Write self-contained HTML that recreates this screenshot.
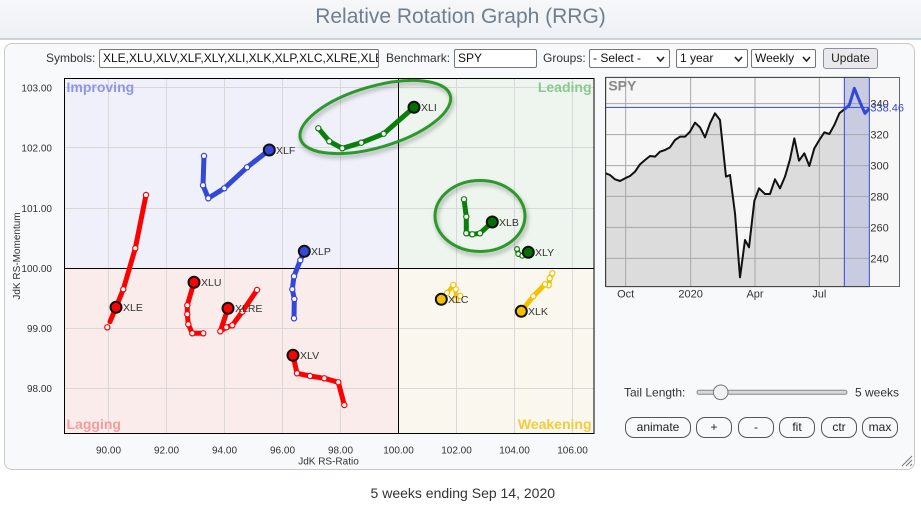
<!DOCTYPE html>
<html><head><meta charset="utf-8">
<style>
html,body{margin:0;padding:0;width:921px;height:506px;overflow:hidden;background:#fff;font-family:"Liberation Sans",Arial,sans-serif;}
.a{position:absolute;}
.title{left:0;top:0;width:921px;height:38px;background:linear-gradient(#f6f7f9,#eef1f4);border-bottom:2px solid #c9d3dd;}
.title span{position:absolute;left:0;width:921px;text-align:center;top:5px;font-size:21px;color:#6d7f91;}
.panel{left:4px;top:43px;width:911px;height:427px;border:1px solid #c8c8c8;border-radius:8px;background:#f8f9fa;box-sizing:border-box;}
.lbl{position:absolute;font-size:12px;color:#333;top:51px;line-height:15px;white-space:nowrap;}
.box{position:absolute;top:49px;height:19px;background:#fff;border:1px solid #767676;border-radius:2px;box-sizing:border-box;font-size:12px;line-height:17px;padding-left:3px;overflow:hidden;white-space:nowrap;color:#111;}
.sel svg{position:absolute;right:4px;top:6px;}
.btn{position:absolute;top:417px;height:21px;border:1px solid #555;border-radius:9px;box-sizing:border-box;font-size:12px;line-height:19px;text-align:center;color:#222;background:#f8f9fa;}
</style></head><body>
<div class="a title"><span>Relative Rotation Graph (RRG)</span></div>
<div class="a panel"></div>

<div class="lbl" style="left:46px;">Symbols:</div>
<div class="box" style="left:99px;width:280px;">XLE,XLU,XLV,XLF,XLY,XLI,XLK,XLP,XLC,XLRE,XLB</div>
<div class="lbl" style="left:386px;">Benchmark:</div>
<div class="box" style="left:454px;width:83px;">SPY</div>
<div class="lbl" style="left:543px;">Groups:</div>
<div class="box sel" style="left:589px;width:81px;">- Select -<svg width="9" height="6"><polyline points="1,1 4.5,5 8,1" fill="none" stroke="#222" stroke-width="1.6"/></svg></div>
<div class="box sel" style="left:676px;width:72px;">1 year<svg width="9" height="6"><polyline points="1,1 4.5,5 8,1" fill="none" stroke="#222" stroke-width="1.6"/></svg></div>
<div class="box sel" style="left:751px;width:65px;">Weekly<svg width="9" height="6"><polyline points="1,1 4.5,5 8,1" fill="none" stroke="#222" stroke-width="1.6"/></svg></div>
<div class="a" style="left:823px;top:48px;width:55px;height:21px;background:#e9e9ed;border:1px solid #8f8f9d;border-radius:3px;box-sizing:border-box;font-size:12px;line-height:19px;text-align:center;color:#222;">Update</div>

<svg class="a" style="left:0;top:0" width="921" height="506" viewBox="0 0 921 506" font-family="Liberation Sans, Arial, sans-serif">
  <defs>
    <filter id="sh" x="-20%" y="-30%" width="140%" height="160%">
      <feDropShadow dx="1.5" dy="3" stdDeviation="2" flood-color="#000" flood-opacity="0.3"/>
    </filter>
  </defs>
  <!-- quadrants -->
  <rect x="64.5" y="78.5" width="334" height="190" fill="#eff0f9"/>
  <rect x="398.5" y="78.5" width="195.5" height="190" fill="#eef4ee"/>
  <rect x="64.5" y="268.5" width="334" height="165" fill="#fbecec"/>
  <rect x="398.5" y="268.5" width="195.5" height="165" fill="#faf8ee"/>
  <!-- grid -->
  <g stroke="#d8d8d8" stroke-width="1">
    <line x1="108.5" y1="78.5" x2="108.5" y2="433.5"/>
    <line x1="166.5" y1="78.5" x2="166.5" y2="433.5"/>
    <line x1="224.5" y1="78.5" x2="224.5" y2="433.5"/>
    <line x1="282.5" y1="78.5" x2="282.5" y2="433.5"/>
    <line x1="340.5" y1="78.5" x2="340.5" y2="433.5"/>
    <line x1="456.5" y1="78.5" x2="456.5" y2="433.5"/>
    <line x1="514.5" y1="78.5" x2="514.5" y2="433.5"/>
    <line x1="572.5" y1="78.5" x2="572.5" y2="433.5"/>
    <line x1="64.5" y1="87.5" x2="594" y2="87.5"/>
    <line x1="64.5" y1="147.5" x2="594" y2="147.5"/>
    <line x1="64.5" y1="208.5" x2="594" y2="208.5"/>
    <line x1="64.5" y1="328.5" x2="594" y2="328.5"/>
    <line x1="64.5" y1="388.5" x2="594" y2="388.5"/>
  </g>
  <line x1="398.5" y1="78.5" x2="398.5" y2="433.5" stroke="#000"/>
  <line x1="64.5" y1="268.5" x2="594" y2="268.5" stroke="#000"/>
  <rect x="64.5" y="78.5" width="529.5" height="355" fill="none" stroke="#000"/>

  <!-- quadrant labels -->
  <g font-size="14" font-weight="bold">
    <text x="66.5" y="92" fill="#8e96e8">Improving</text>
    <text x="591.5" y="92" fill="#8cc98c" text-anchor="end">Leading</text>
    <text x="66.5" y="429" fill="#f59c9c">Lagging</text>
    <text x="591.5" y="429" fill="#f2cc3c" text-anchor="end">Weakening</text>
  </g>

  <!-- axis labels -->
  <g font-size="10" fill="#333" text-anchor="end">
    <text x="52" y="91.3">103.00</text>
    <text x="52" y="151.3">102.00</text>
    <text x="52" y="212">101.00</text>
    <text x="52" y="272">100.00</text>
    <text x="52" y="332">99.00</text>
    <text x="52" y="392">98.00</text>
  </g>
  <g font-size="10" fill="#333" text-anchor="middle">
    <text x="108.5" y="453.5">90.00</text>
    <text x="166.5" y="453.5">92.00</text>
    <text x="224.5" y="453.5">94.00</text>
    <text x="282.5" y="453.5">96.00</text>
    <text x="340.5" y="453.5">98.00</text>
    <text x="398.5" y="453.5">100.00</text>
    <text x="456.5" y="453.5">102.00</text>
    <text x="514.5" y="453.5">104.00</text>
    <text x="572.5" y="453.5">106.00</text>
    <text x="328.5" y="464.5">JdK RS-Ratio</text>
    <text x="0" y="0" transform="translate(20,256) rotate(-90)">JdK RS-Momentum</text>
  </g>

  <!-- ellipses -->
  <g fill="none" stroke="#2b9a2b" stroke-width="3" filter="url(#sh)">
    <ellipse cx="375.3" cy="117" rx="78" ry="30.5" transform="rotate(-16.3 375.3 117)"/>
    <ellipse cx="480" cy="216" rx="45" ry="35.5"/>
  </g>

  <!-- tails -->
  <g fill="none" stroke-width="5" stroke-linejoin="round" stroke-linecap="round">
    <polyline stroke="#ff0000" points="146,195 135.3,248.3 123.3,289.3 116,307.3 110,321.7"/>
    <polyline stroke="#ff0000" points="203.3,333.3 192.3,333.3 188.3,324.3 187.3,314.3 187.3,305.3 194,282.3"/>
    <polyline stroke="#ff0000" points="257,290 242.3,311.7 232.3,325.3 226.3,327.3 220.3,331.3 228,308.3"/>
    <polyline stroke="#ff0000" points="344.3,405 338.3,382.3 324.3,378.3 310,376 297,373.3 293,355.3"/>
    <polyline stroke="#3347d8" points="204,156 203,185.3 208.3,198.3 224.3,188.3 247,167.3 269.3,150"/>
    <polyline stroke="#3347d8" points="294,318.3 294.3,299 292.3,289.3 294,276.3 300.3,260.3 304.3,251.3"/>
    <polyline stroke="#0a800a" points="318.3,128.3 329.3,141.3 342.3,148.3 361.3,142.7 383.7,133.7 414,107.3"/>
    <polyline stroke="#0a800a" points="464,199.3 466.3,216.7 466.3,233.3 472.3,234.3 480,233.3 492.3,222"/>
    <polyline stroke="#0a800a" points="517,249 518.3,254 522.3,255.7 528.3,252.3"/>
    <polyline stroke="#f5c000" stroke-width="4" points="460.3,296 455.7,300 455.7,289.3 453.3,285 447,293 441.3,299.3"/>
    <polyline stroke="#f5c000" points="552.3,273.3 549.7,278.3 548.7,285.3 545,284.3 533.3,296.3 521.3,311.3"/>
  </g>

  <!-- markers -->
  <g fill="#fff" stroke-width="1.2">
    <g stroke="#ff0000">
      <circle cx="146" cy="195" r="2.6"/><circle cx="135.3" cy="248.3" r="2.6"/><circle cx="123.3" cy="289.3" r="2.6"/><circle cx="107.3" cy="327.3" r="2.6"/>
      <circle cx="203.3" cy="333.3" r="2.6"/><circle cx="192.3" cy="333.3" r="2.6"/><circle cx="188.3" cy="324.3" r="2.6"/><circle cx="187.3" cy="314.3" r="2.6"/><circle cx="187.3" cy="305.3" r="2.6"/>
      <circle cx="257" cy="290" r="2.6"/><circle cx="242.3" cy="311.7" r="2.6"/><circle cx="232.3" cy="325.3" r="2.6"/><circle cx="226.3" cy="327.3" r="2.6"/><circle cx="220.3" cy="331.3" r="2.6"/>
      <circle cx="344.3" cy="405" r="2.6"/><circle cx="338.3" cy="382.3" r="2.6"/><circle cx="324.3" cy="378.3" r="2.6"/><circle cx="310" cy="376" r="2.6"/><circle cx="297" cy="373.3" r="2.6"/>
    </g>
    <g stroke="#3347d8">
      <circle cx="204" cy="156" r="2.6"/><circle cx="203" cy="185.3" r="2.6"/><circle cx="208.3" cy="198.3" r="2.6"/><circle cx="224.3" cy="188.3" r="2.6"/><circle cx="247" cy="167.3" r="2.6"/>
      <circle cx="294" cy="318.3" r="2.6"/><circle cx="294.3" cy="299" r="2.6"/><circle cx="292.3" cy="289.3" r="2.6"/><circle cx="294" cy="276.3" r="2.6"/><circle cx="300.3" cy="260.3" r="2.6"/>
    </g>
    <g stroke="#0a800a">
      <circle cx="318.3" cy="128.3" r="2.6"/><circle cx="329.3" cy="141.3" r="2.6"/><circle cx="342.3" cy="148.3" r="2.6"/><circle cx="361.3" cy="142.7" r="2.6"/><circle cx="383.7" cy="133.7" r="2.6"/>
      <circle cx="464" cy="199.3" r="2.6"/><circle cx="466.3" cy="216.7" r="2.6"/><circle cx="466.3" cy="233.3" r="2.6"/><circle cx="472.3" cy="234.3" r="2.6"/><circle cx="480" cy="233.3" r="2.6"/>
      <circle cx="517" cy="249" r="2.4"/><circle cx="518.3" cy="254" r="2.4"/><circle cx="522.3" cy="255.7" r="2.4"/>
    </g>
    <g stroke="#f5c000">
      <circle cx="460.3" cy="296" r="2.6"/><circle cx="455.7" cy="300" r="2.6"/><circle cx="455.7" cy="289.3" r="2.6"/><circle cx="453.3" cy="285" r="2.6"/><circle cx="447" cy="293" r="2.6"/>
      <circle cx="552.3" cy="273.3" r="2.6"/><circle cx="549.7" cy="278.3" r="2.6"/><circle cx="548.7" cy="285.3" r="2.6"/><circle cx="545" cy="284.3" r="2.6"/><circle cx="533.3" cy="296.3" r="2.6"/>
    </g>
  </g>

  <!-- heads -->
  <g stroke="#111" stroke-width="2">
    <circle cx="116" cy="307.3" r="5.5" fill="#ff0000"/>
    <circle cx="194" cy="282.3" r="5.5" fill="#ff0000"/>
    <circle cx="228" cy="308.3" r="5.5" fill="#ff0000"/>
    <circle cx="293" cy="355.3" r="5.5" fill="#ff0000"/>
    <circle cx="269.3" cy="150" r="5.5" fill="#3347d8"/>
    <circle cx="304.3" cy="251.3" r="5.5" fill="#3347d8"/>
    <circle cx="414" cy="107.3" r="5.5" fill="#007000"/>
    <circle cx="492.3" cy="222" r="5.5" fill="#007000"/>
    <circle cx="528.3" cy="252.3" r="5.5" fill="#007000"/>
    <circle cx="441.3" cy="299.3" r="5.5" fill="#f5c000"/>
    <circle cx="521.3" cy="311.3" r="5.5" fill="#f5c000"/>
  </g>
  <g font-size="10.5" fill="#333">
    <text x="123" y="311">XLE</text>
    <text x="201" y="286">XLU</text>
    <text x="235" y="312">XLRE</text>
    <text x="300" y="359">XLV</text>
    <text x="276" y="154">XLF</text>
    <text x="311" y="255">XLP</text>
    <text x="421" y="111">XLI</text>
    <text x="499" y="226">XLB</text>
    <text x="535" y="256">XLY</text>
    <text x="448" y="303">XLC</text>
    <text x="528" y="315">XLK</text>
  </g>

  <!-- SPY chart -->
  <rect x="605.5" y="77.5" width="294" height="209" fill="#f7f7f7" stroke="#666" stroke-width="1"/>
  <svg x="595" y="70" width="326" height="240" viewBox="0 0 978 720">
    <rect x="32" y="22" width="791" height="628" fill="#f6f6f6"/>
    <polygon fill="#dcdcdc" points="32,650 32,310 45,315 60,328 75,333 90,325 105,318 120,305 135,283 150,270 165,258 180,260 195,245 210,240 225,232 240,210 255,200 270,200 285,185 300,158 315,172 330,202 345,160 360,130 375,150 393,320 405,315 420,430 435,622 450,510 462,532 478,393 492,355 510,372 525,372 540,328 555,355 570,320 585,268 598,205 612,272 628,250 643,288 658,235 673,210 688,187 703,192 718,165 733,130 748,118 748,650"/>
    <rect x="748" y="22" width="75" height="628" fill="#c9cce0"/>
    <g stroke="#a8a8a8" stroke-width="3">
      <line x1="92" y1="22" x2="92" y2="650"/>
      <line x1="287" y1="22" x2="287" y2="650"/>
      <line x1="480" y1="22" x2="480" y2="650"/>
      <line x1="673" y1="22" x2="673" y2="650"/>
      <line x1="32" y1="101" x2="823" y2="101"/>
      <line x1="32" y1="194" x2="823" y2="194"/>
      <line x1="32" y1="287" x2="823" y2="287"/>
      <line x1="32" y1="379" x2="823" y2="379"/>
      <line x1="32" y1="472" x2="823" y2="472"/>
      <line x1="32" y1="565" x2="823" y2="565"/>
    </g>
    <polyline fill="none" stroke="#111" stroke-width="6" stroke-linejoin="round" points="32,310 45,315 60,328 75,333 90,325 105,318 120,305 135,283 150,270 165,258 180,260 195,245 210,240 225,232 240,210 255,200 270,200 285,185 300,158 315,172 330,202 345,160 360,130 375,150 393,320 405,315 420,430 435,622 450,510 462,532 478,393 492,355 510,372 525,372 540,328 555,355 570,320 585,268 598,205 612,272 628,250 643,288 658,235 673,210 688,187 703,192 718,165 733,130 748,118"/>
    <g stroke="#3347d8" stroke-width="3">
      <line x1="748" y1="22" x2="748" y2="650"/>
      <line x1="823" y1="22" x2="823" y2="650"/>
      <line x1="32" y1="112" x2="823" y2="112"/>
    </g>
    <text x="826" y="112" font-size="33" fill="#333">340</text>
    <polyline fill="none" stroke="#3347d8" stroke-width="9" stroke-linejoin="round" points="748,118 763,105 778,55 793,92 810,130 823,115"/>
    <line x1="32" y1="22" x2="32" y2="650" stroke="#333" stroke-width="3"/>
    <line x1="32" y1="22" x2="823" y2="22" stroke="#333" stroke-width="3"/>
    <line x1="32" y1="650" x2="823" y2="650" stroke="#333" stroke-width="3"/>
    <text x="40" y="62" font-size="42" font-weight="bold" fill="#888">SPY</text>
    <g font-size="33" fill="#333">
      <text x="826" y="206">320</text>
      <text x="826" y="299">300</text>
      <text x="826" y="391">280</text>
      <text x="826" y="484">260</text>
      <text x="826" y="577">240</text>
      <text x="826" y="124" fill="#3347d8">338.46</text>
    </g>
    <g font-size="33" fill="#333" text-anchor="middle">
      <text x="92" y="682">Oct</text>
      <text x="287" y="682">2020</text>
      <text x="480" y="682">Apr</text>
      <text x="673" y="682">Jul</text>
    </g>
  </svg>

  <!-- slider -->
  <text x="624" y="396.5" font-size="12" fill="#333">Tail Length:</text>
  <rect x="697" y="390.3" width="150" height="4" rx="2" fill="#d8d8d8" stroke="#888" stroke-width="1"/>
  <circle cx="720.7" cy="392.3" r="7.3" fill="#f2f2f2" stroke="#777" stroke-width="1"/>
  <text x="855" y="396.5" font-size="12" fill="#333">5 weeks</text>

  <!-- resize grip -->
  <g stroke="#777" stroke-width="1">
    <line x1="902" y1="466" x2="912" y2="456"/>
    <line x1="906" y1="466" x2="912" y2="460"/>
    <line x1="910" y1="466" x2="912" y2="464"/>
  </g>

  <text x="462.8" y="498" font-size="14" fill="#333" text-anchor="middle">5 weeks ending Sep 14, 2020</text>
</svg>

<div class="btn" style="left:625px;width:66px;">animate</div>
<div class="btn" style="left:696px;width:36px;">+</div>
<div class="btn" style="left:738px;width:36px;">-</div>
<div class="btn" style="left:779px;width:36px;">fit</div>
<div class="btn" style="left:821px;width:36px;">ctr</div>
<div class="btn" style="left:862px;width:36px;">max</div>
</body></html>
